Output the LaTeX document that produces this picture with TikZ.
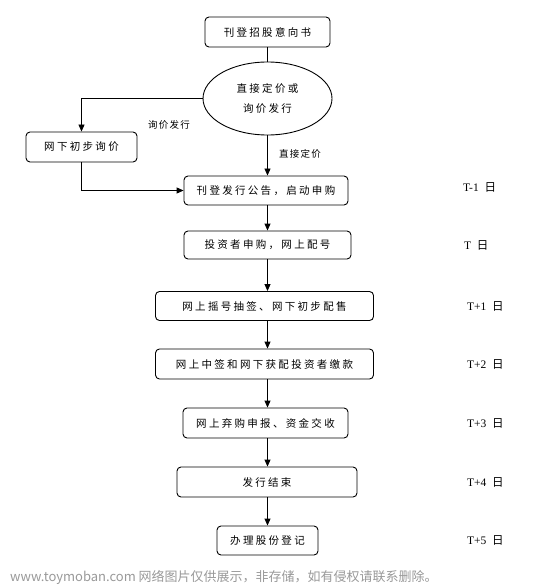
\documentclass[tikz,border=0pt]{standalone}
\usepackage{fontspec}
\setmainfont{Liberation Serif}
\newfontfamily\cjk[LetterSpace=22]{Noto Sans CJK SC}
\newfontfamily\cjks[LetterSpace=14]{Noto Sans CJK SC}
\newfontfamily\cjkw{Noto Sans CJK SC}
\usetikzlibrary{arrows.meta,shapes.geometric}
\tikzset{
  box/.style={draw, rounded corners=4pt, line width=0.9pt, inner sep=0pt, font=\cjk\fontsize{10.5}{13}\selectfont},
  oval/.style={draw, ellipse, line width=0.9pt, inner sep=0pt, align=center, font=\cjk\fontsize{10.5}{20}\selectfont},
  arr/.style={line width=0.9pt, -{Triangle[length=7pt,width=6pt]}},
  line/.style={line width=0.9pt},
  lab/.style={font=\cjks\fontsize{9.5}{11}\selectfont},
  day/.style={anchor=west, inner sep=0pt, font=\fontsize{11.5}{13}\selectfont},
  wm/.style={anchor=west, inner sep=0pt, text=black!40, font=\cjkw\fontsize{13}{15}\selectfont}
}
\begin{document}
\begin{tikzpicture}[x=1pt,y=-1pt]
\useasboundingbox (0,0) rectangle (534,585);
\node[box, minimum width=125pt, minimum height=30pt] (n1) at (267.5,32) {刊登招股意向书};
\node[oval, minimum width=129pt, minimum height=73pt] (e) at (267.5,98.5) {直接定价或\\询价发行};
\node[box, minimum width=111pt, minimum height=30pt] (n2) at (81.5,147) {网下初步询价};
\node[box, minimum width=164pt, minimum height=29pt] (n3) at (266,190.5) {刊登发行公告，启动申购};
\node[box, minimum width=167pt, minimum height=28pt] (n4) at (267.5,245) {投资者申购，网上配号};
\node[box, minimum width=218pt, minimum height=29pt] (n5) at (264.5,306) {网上摇号抽签、网下初步配售};
\node[box, minimum width=218pt, minimum height=30pt] (n6) at (264.5,364) {网上中签和网下获配投资者缴款};
\node[box, minimum width=165pt, minimum height=30pt] (n7) at (265.5,423) {网上弃购申报、资金交收};
\node[box, minimum width=180pt, minimum height=30pt] (n8) at (267,482) {发行结束};
\node[box, minimum width=101pt, minimum height=29pt] (n9) at (267.5,540.5) {办理股份登记};

\node[lab] (l1) at (169,125) {询价发行};
\node[lab] (l2) at (300,154) {直接定价};

\node[day] (d1) at (463,187) {T-1\ \ {\cjkw 日}};
\node[day] (d2) at (464,245) {T\ \ {\cjkw 日}};
\node[day] (d3) at (467,306) {T+1\ \ {\cjkw 日}};
\node[day] (d4) at (467,364) {T+2\ \ {\cjkw 日}};
\node[day] (d5) at (467,423) {T+3\ \ {\cjkw 日}};
\node[day] (d6) at (467,482) {T+4\ \ {\cjkw 日}};
\node[day] (d7) at (467,540) {T+5\ \ {\cjkw 日}};

\node[wm] (w) at (10,577) {www.toymoban.com 网络图片仅供展示，非存储，如有侵权请联系删除。};

\draw[line] (n1.south) -- (e.north);
\draw[arr] (e.west) -| (n2.north);
\draw[arr] (e.south) -- (e.south |- n3.north);
\draw[arr] (n2.south) |- (n3.west);
\draw[arr] (n3.south -| e.south) -- (e.south |- n4.north);
\draw[arr] (n4.south -| e.south) -- (e.south |- n5.north);
\draw[arr] (n5.south -| e.south) -- (e.south |- n6.north);
\draw[arr] (n6.south -| e.south) -- (e.south |- n7.north);
\draw[arr] (n7.south -| e.south) -- (e.south |- n8.north);
\draw[arr] (n8.south -| e.south) -- (e.south |- n9.north);
\end{tikzpicture}
\end{document}
